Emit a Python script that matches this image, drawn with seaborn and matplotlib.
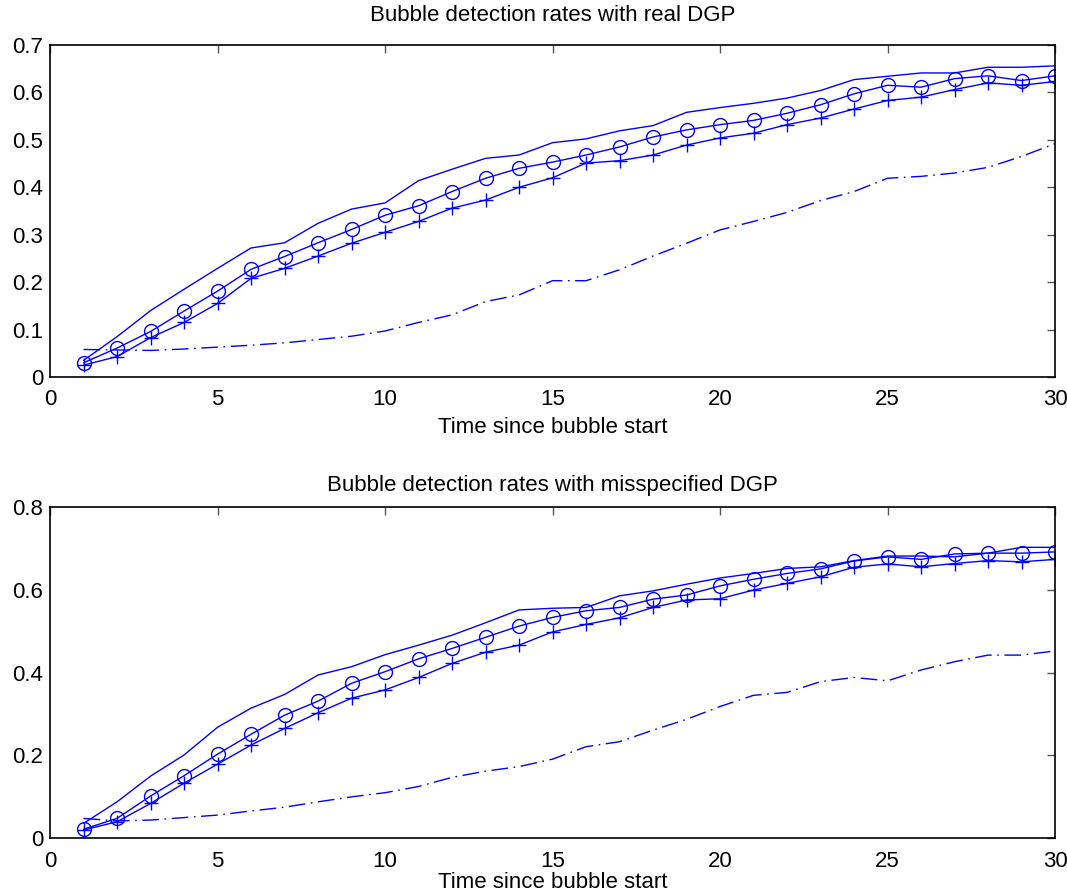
import numpy as np
import pandas as pd
import seaborn as sns
import matplotlib
matplotlib.use("Agg")
import matplotlib.pyplot as plt

t = list(range(1, 31))

# top panel: real DGP
real_upper = [0.035, 0.085, 0.140, 0.185, 0.229, 0.272, 0.283, 0.324, 0.354, 0.367,
              0.414, 0.438, 0.461, 0.468, 0.494, 0.502, 0.519, 0.530, 0.558, 0.568,
              0.577, 0.588, 0.604, 0.627, 0.634, 0.641, 0.641, 0.653, 0.653, 0.656]
real_circle = [0.030, 0.061, 0.096, 0.139, 0.181, 0.227, 0.254, 0.283, 0.311, 0.341,
               0.361, 0.391, 0.419, 0.440, 0.453, 0.468, 0.485, 0.506, 0.521, 0.532,
               0.541, 0.556, 0.574, 0.597, 0.615, 0.611, 0.629, 0.635, 0.625, 0.635]
real_plus = [0.025, 0.043, 0.083, 0.115, 0.155, 0.208, 0.229, 0.255, 0.282, 0.305,
             0.328, 0.356, 0.373, 0.400, 0.420, 0.451, 0.456, 0.468, 0.489, 0.504,
             0.514, 0.532, 0.546, 0.565, 0.583, 0.590, 0.606, 0.620, 0.615, 0.623]
real_dashdot = [0.058, 0.057, 0.056, 0.059, 0.063, 0.067, 0.072, 0.079, 0.086, 0.097,
                0.115, 0.131, 0.159, 0.173, 0.203, 0.203, 0.226, 0.255, 0.282, 0.310,
                0.328, 0.347, 0.372, 0.391, 0.419, 0.423, 0.430, 0.442, 0.465, 0.492]

# bottom panel: misspecified DGP
mis_upper = [0.036, 0.088, 0.150, 0.201, 0.268, 0.314, 0.347, 0.394, 0.414, 0.443,
             0.466, 0.490, 0.520, 0.551, 0.555, 0.557, 0.585, 0.597, 0.613, 0.628,
             0.639, 0.651, 0.655, 0.670, 0.681, 0.681, 0.679, 0.688, 0.702, 0.702]
mis_circle = [0.022, 0.048, 0.102, 0.151, 0.203, 0.251, 0.297, 0.331, 0.374, 0.402,
              0.433, 0.458, 0.485, 0.512, 0.533, 0.549, 0.557, 0.577, 0.587, 0.609,
              0.625, 0.639, 0.650, 0.669, 0.679, 0.673, 0.686, 0.688, 0.688, 0.691]
mis_plus = [0.020, 0.040, 0.084, 0.133, 0.179, 0.225, 0.265, 0.303, 0.338, 0.358,
            0.388, 0.422, 0.449, 0.466, 0.498, 0.516, 0.532, 0.557, 0.575, 0.578,
            0.599, 0.615, 0.631, 0.654, 0.662, 0.655, 0.663, 0.670, 0.667, 0.673]
mis_dashdot = [0.048, 0.042, 0.044, 0.050, 0.056, 0.066, 0.075, 0.088, 0.100, 0.110,
               0.125, 0.147, 0.162, 0.173, 0.191, 0.221, 0.233, 0.261, 0.287, 0.318,
               0.345, 0.352, 0.378, 0.388, 0.380, 0.406, 0.426, 0.442, 0.442, 0.452]

titles = ["Bubble detection rates with real DGP",
          "Bubble detection rates with misspecified DGP"]
xlabel = "Time since bubble start"
xticks = [0, 5, 10, 15, 20, 25, 30]
yticks_top = [0, 0.1, 0.2, 0.3, 0.4, 0.5, 0.6, 0.7]
yticks_bot = [0, 0.2, 0.4, 0.6, 0.8]

sns.set_style("white", {"xtick.direction": "in", "ytick.direction": "in"})
plt.rcParams["font.family"] = ["Liberation Sans", "DejaVu Sans"]
plt.rcParams["font.size"] = 16
plt.rcParams["text.color"] = "black"
plt.rcParams["axes.labelcolor"] = "black"
plt.rcParams["xtick.labelcolor"] = "black"
plt.rcParams["ytick.labelcolor"] = "black"

fig = plt.figure(figsize=(10.67, 8.94), dpi=100)
ax1 = fig.add_axes([0.0469, 0.5783, 0.9419, 0.3714])
ax2 = fig.add_axes([0.0469, 0.0623, 0.9419, 0.3709])

blue = (0, 0, 1)
dashdot = (0, (12, 4, 1.2, 4))


def draw_panel(ax, upper, circ, plus, dd, title, yticks, tpad, lpad):
    sns.lineplot(x=t, y=upper, ax=ax, color=blue, lw=1.0)
    sns.lineplot(x=t, y=circ, ax=ax, color=blue, lw=1.0, marker="o", markersize=10,
                 markerfacecolor="none", markeredgecolor=blue, markeredgewidth=1.0)
    sns.lineplot(x=t, y=plus, ax=ax, color=blue, lw=1.0, marker="+", markersize=10,
                 markeredgecolor=blue, markeredgewidth=1.0)
    sns.lineplot(x=t, y=dd, ax=ax, color=blue, lw=1.0, linestyle=dashdot)
    ax.set_xlim(0, 30)
    ax.set_ylim(yticks[0], yticks[-1])
    ax.set_xticks(xticks)
    ax.set_xticklabels([f"{v:g}" for v in xticks])
    ax.set_yticks(yticks)
    ax.set_yticklabels([f"{v:g}" for v in yticks])
    ax.tick_params(axis="both", which="both", direction="in", length=6, width=1,
                   color="#555555", top=True, right=True, labelsize=16)
    ax.tick_params(axis="x", pad=9)
    ax.tick_params(axis="y", pad=5)
    for s in ax.spines.values():
        s.set_color("black")
        s.set_linewidth(1.2)
    ax.set_xlabel(xlabel, fontsize=16, labelpad=lpad)
    ax.set_title(title, fontsize=16, pad=tpad)


draw_panel(ax1, real_upper, real_circle, real_plus, real_dashdot, titles[0], yticks_top, 17.5, 5)
draw_panel(ax2, mis_upper, mis_circle, mis_plus, mis_dashdot, titles[1], yticks_bot, 11, 0.5)

fig.savefig("out.png", dpi=100)
